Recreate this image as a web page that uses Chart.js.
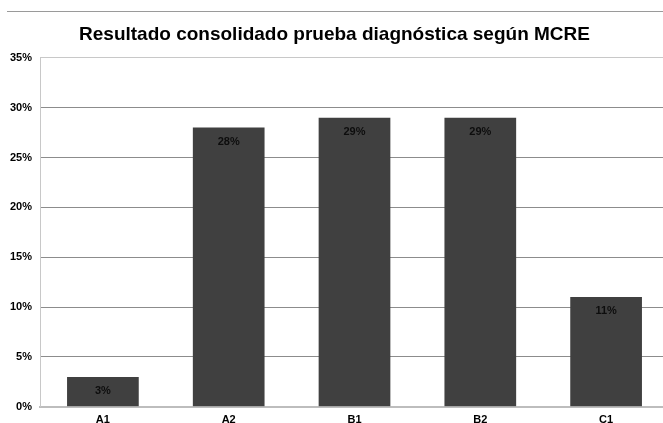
<!DOCTYPE html>
<html>
<head>
<meta charset="utf-8">
<script src="https://cdn.jsdelivr.net/npm/chart.js@4"></script>
<style>
  html, body { margin: 0; padding: 0; background: #fff; overflow: hidden; }
  #wrap { position: relative; width: 663px; height: 423px; overflow: hidden; }
  #topline { position: absolute; left: 7px; right: 0; top: 11px; border-top: 1px solid #9a9a9a; }
  canvas { position: absolute; left: 0; top: 0; }
</style>
</head>
<body>
<div id="wrap">
  <canvas id="chart" width="672" height="434"></canvas>
  <div id="topline"></div>
</div>
<script>
const categories = ['A1', 'A2', 'B1', 'B2', 'C1'];
const values = [3, 28, 29, 29, 11];
const title_text = 'Resultado consolidado prueba diagnóstica según MCRE';
const y_max = 35;
const y_step = 5;

const tick_font = { family: '"Liberation Sans", Arial', size: 11, weight: 'bold' };

// draws the % label near the top of each bar
const barLabels = {
    id: 'barLabels',
    afterDatasetsDraw(chart) {
        const ctx = chart.ctx;
        const meta = chart.getDatasetMeta(0);
        ctx.save();
        ctx.font = 'bold 11px "Liberation Sans", Arial';
        ctx.fillStyle = '#0d0d0d';
        ctx.textAlign = 'center';
        ctx.textBaseline = 'middle';
        meta.data.forEach((bar, i) => {
            ctx.fillText(values[i] + '%', bar.x, bar.y + 14);
        });
        ctx.restore();
    }
};

const ctx = document.getElementById('chart').getContext('2d');
const chart = new Chart(ctx, {
    type: 'bar',
    data: {
        labels: categories,
        datasets: [{
            data: values,
            backgroundColor: '#404040',
            borderWidth: 0,
            barPercentage: 0.57,
            categoryPercentage: 1.0
        }]
    },
    options: {
        responsive: false,
        animation: false,
        layout: { padding: { left: 0, right: 3, top: 0, bottom: 0 } },
        plugins: {
            legend: { display: false },
            tooltip: { enabled: false },
            title: {
                display: true,
                text: title_text,
                color: '#000',
                font: { family: '"Liberation Sans", Arial', size: 19, weight: 'bold' },
                padding: { top: 23, bottom: 12 }
            }
        },
        scales: {
            x: {
                grid: { display: false, drawTicks: false },
                border: { display: true, color: '#bdbdbd', width: 2 },
                ticks: { color: '#000', font: tick_font, padding: 7 }
            },
            y: {
                min: 0,
                max: y_max,
                afterFit(scale) { scale.width = 40; },
                grid: {
                    drawTicks: false,
                    color: (c) => c.tick && (c.tick.value === y_max) ? '#c8c8c8' : '#8c8c8c',
                    lineWidth: 1
                },
                border: { display: true, color: '#c8c8c8', width: 1 },
                ticks: {
                    stepSize: y_step,
                    color: '#000',
                    font: tick_font,
                    padding: 8,
                    callback: (v) => v + '%'
                }
            }
        }
    },
    plugins: [barLabels]
});
</script>
</body>
</html>
